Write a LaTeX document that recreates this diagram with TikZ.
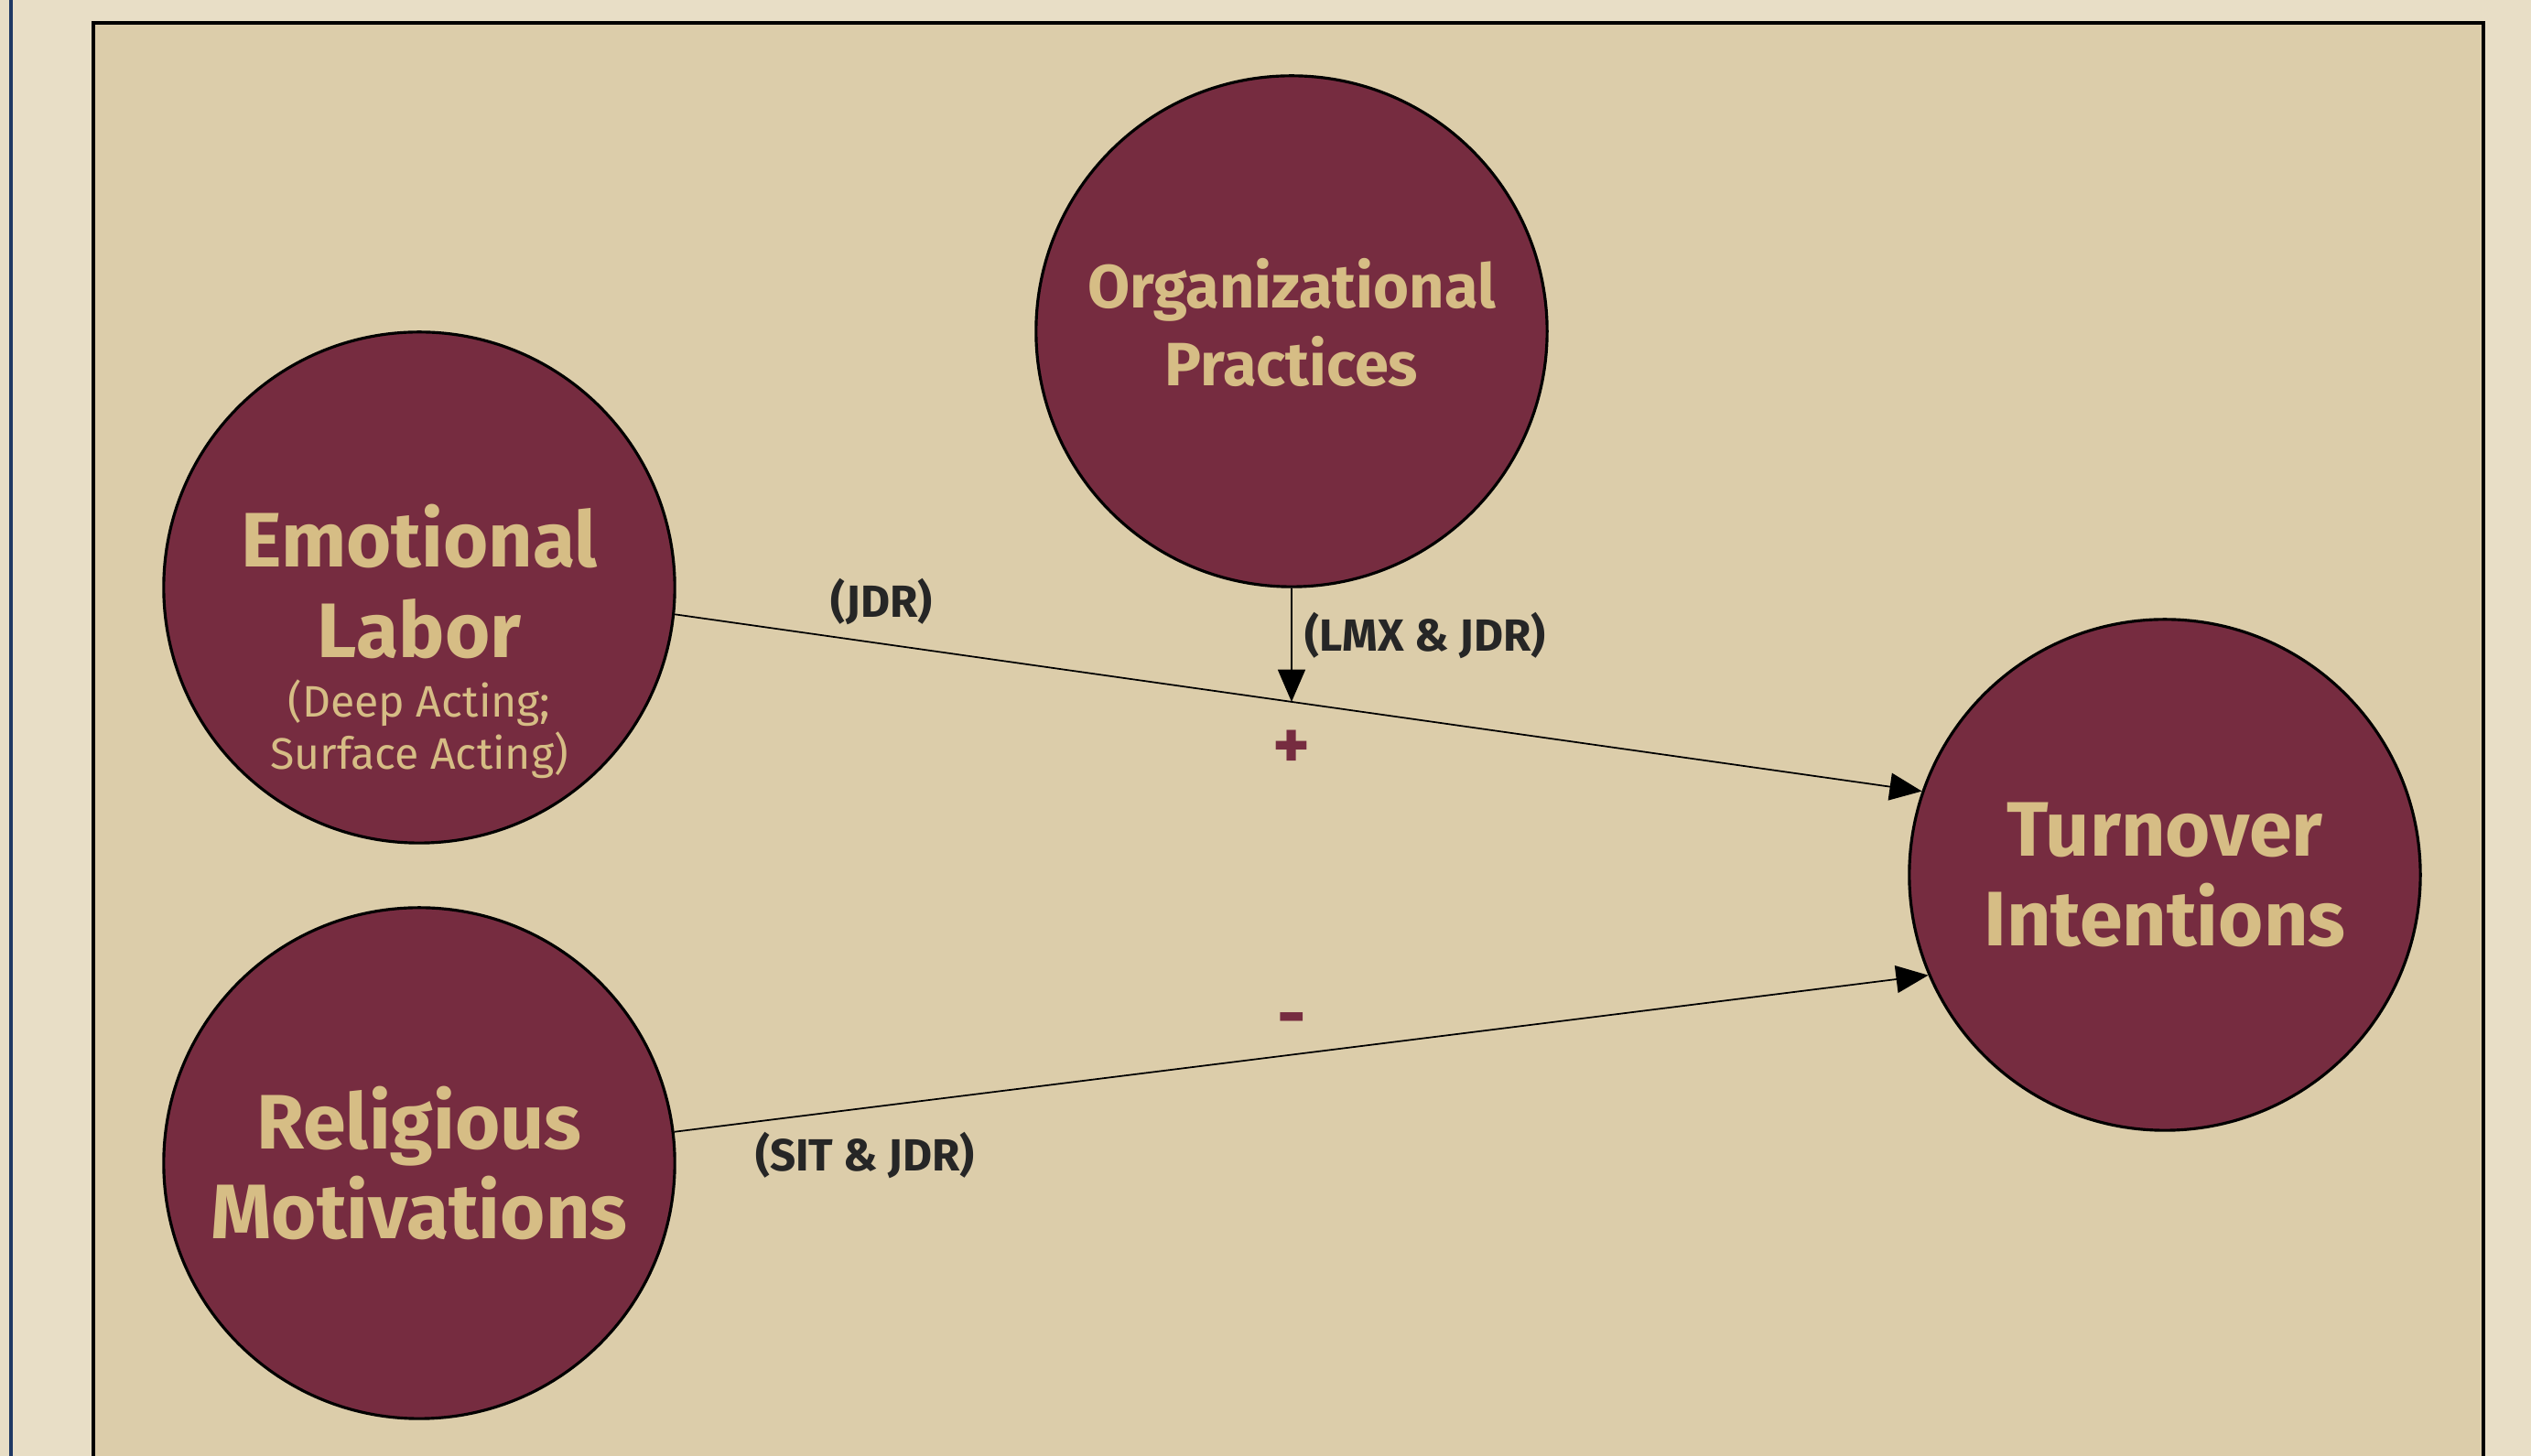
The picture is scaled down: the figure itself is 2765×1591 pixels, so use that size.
\documentclass[tikz,border=0pt]{standalone}
\usepackage{fontspec}
\setmainfont{Fira Sans}
\usetikzlibrary{arrows.meta}

\definecolor{maroon}{HTML}{762C40}
\definecolor{tan}{HTML}{D6BD85}
\definecolor{panel}{HTML}{DCCDAA}
\definecolor{page}{HTML}{E8DEC6}
\definecolor{navy}{HTML}{1F3864}

\tikzset{
  construct/.style={circle, draw=black, line width=0.9pt, fill=maroon, text=tan,
    inner sep=0pt, minimum size=5.58cm, align=center,
    font=\bfseries\fontsize{24}{28}\selectfont},
  link/.style={line width=0.5pt, -{Triangle[length=10pt,width=8.5pt]}},
  theory/.style={font=\bfseries\fontsize{14}{16}\selectfont, text=black!85},
  sign/.style={font=\bfseries\fontsize{22}{24}\selectfont, text=maroon}
}

\begin{document}
\begin{tikzpicture}[x=0.01cm, y=0.01cm]

% Page and panel
\fill[page] (0,0) rectangle (2765,1591);
\useasboundingbox (0,0) rectangle (2765,1591);
\draw[navy, line width=1pt] (12,0) -- (12,1591);
\fill[panel] (102,-20) rectangle (2713,1566);
\draw[line width=1.2pt] (102,-20) |- (2713,1566) -- (2713,-20);

% Constructs
\node[construct, text depth=0.14cm] (el) at (458,949) {Emotional\\Labor};
\node[construct] (rm) at (458,320) {Religious\\Motivations};
\node[construct] (ti) at (2365,635) {Turnover\\Intentions};
\node[construct, text depth=0.2cm, font=\bfseries\fontsize{19}{24}\selectfont] (op) at (1411,1229) {Organizational\\Practices};

% Dimensions of emotional labor
\node[text=tan, align=center, font=\fontsize{13.7}{16.3}\selectfont] (elsub) at (458,794) {(Deep Acting;\\Surface Acting)};

% Direct paths
\draw[link] (el.-6) -- (ti.161);
\draw[link] (rm.7) -- (ti.-157);

% Moderation arrow onto the upper path
\coordinate (elout) at (el.-6);
\coordinate (tiin) at (ti.161);
\coordinate (hit) at (intersection of op.center--op.south and elout--tiin);
\draw[link] (op.south) -- (hit);

% Theory labels
\node[theory] (jdr) at (963,933) {(JDR)};
\node[theory] (lmxjdr) at (1557,896) {(LMX \& JDR)};
\node[theory] (sitjdr) at (945,328) {(SIT \& JDR)};

% Signs
\node[sign] (plus) at (1411,772) {+};
\node[sign] (minus) at (1411,470) {-};

\end{tikzpicture}
\end{document}
